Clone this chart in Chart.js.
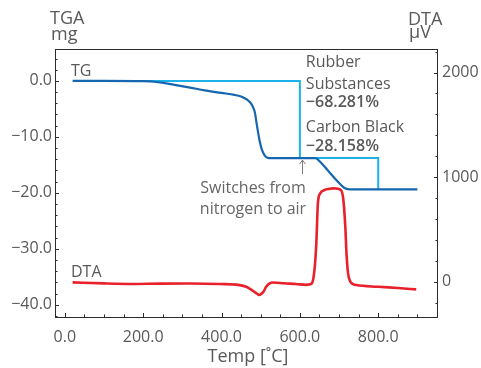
<!DOCTYPE html>
<html>
<head>
<meta charset="utf-8">
<script src="https://cdn.jsdelivr.net/npm/chart.js@4.4.1/dist/chart.umd.min.js"></script>
<style>
  html, body { margin: 0; padding: 0; background: #fff; }
  #wrap { width: 481px; height: 368px; }
</style>
</head>
<body>
<div id="wrap"><canvas id="tgaChart" width="481" height="368"></canvas></div>
<script>
// Curva TG (mg), escalones de referencia y señal DTA (µV) frente a temperatura
var tgTemp = [20, 100, 200, 229, 255, 280, 320, 357, 400, 433, 450, 459, 468, 476, 481, 485, 491, 497, 503, 510, 518, 530, 600, 640, 651, 670, 690, 705, 713, 722, 735, 800, 900];
var tgMass = [0, 0, -0.05, -0.15, -0.4, -0.7, -1.2, -1.7, -2.15, -2.5, -2.8, -3.1, -3.5, -4.1, -4.8, -5.6, -8.2, -10.6, -12.3, -13.3, -13.75, -13.8, -13.8, -13.8, -14.4, -15.9, -17.5, -18.6, -19.1, -19.35, -19.4, -19.4, -19.4];

var stepTemp = [100, 600, 600, 800, 800];
var stepMass = [0, 0, -13.8, -13.8, -19.4];

var dtaTemp = [20, 100, 173, 242, 320, 395, 446, 463, 480, 490, 496, 502, 507, 514, 523, 531, 560, 590, 616, 626, 632, 638, 642, 646, 652, 663, 675, 685, 695, 702, 710, 716, 719, 723, 729, 736, 744, 800, 850, 897];
var dtaSignal = [-6, -16, -21, -18, -17, -22, -32, -48, -86, -112, -127, -115, -96, -48, -15, -7, -15, -22, -30, -25, -5, 143, 367, 750, 845, 877, 888, 893, 890, 883, 813, 526, 271, 80, 0, -22, -32, -48, -60, -73];

var xTickLabels = [0, 200, 400, 600, 800];
var massTickLabels = [0, -10, -20, -30, -40];
var dtaTickLabels = [0, 1000, 2000];

var lossRubber = "\u221268.281%";
var lossCarbon = "\u221228.158%";

var FONT = '"Open Sans", "Noto Sans", sans-serif';
var TEXT = "#595959";

function pairs(xs, ys) {
  return xs.map(function (x, i) { return { x: x, y: ys[i] }; });
}

function fmt(v) {
  return (v < 0 ? "\u2212" : "") + Math.abs(v).toFixed(1);
}

function hasValue(list, v) {
  return list.some(function (t) { return Math.abs(t - v) < 1e-6; });
}

// marcas menores cada "step" dentro del rango de la escala
function minorTicks(step) {
  return function (scale) {
    var out = [];
    var v = Math.ceil(scale.min / step - 1e-9) * step;
    for (; v <= scale.max + 1e-9; v += step) out.push({ value: Math.round(v * 1000) / 1000 });
    scale.ticks = out;
  };
}

// marco, marcas hacia dentro y textos
var decorPlugin = {
  id: "decor",
  afterDraw: function (chart) {
    var ctx = chart.ctx, a = chart.chartArea;
    var xs = chart.scales.x, ys = chart.scales.y, ys2 = chart.scales.y1;
    ctx.save();
    ctx.strokeStyle = "#2b2b2b";
    ctx.lineWidth = 1;
    ctx.strokeRect(a.left + 0.5, a.top + 0.5, a.right - a.left, a.bottom - a.top);

    ctx.beginPath();
    xs.ticks.forEach(function (t) {
      var p = Math.round(xs.getPixelForValue(t.value)) + 0.5;
      var len = t.label ? 4 : 2.5;
      ctx.moveTo(p, a.bottom); ctx.lineTo(p, a.bottom - len);
    });
    ys.ticks.forEach(function (t) {
      var p = Math.round(ys.getPixelForValue(t.value)) + 0.5;
      var len = t.label ? 4 : 2.5;
      ctx.moveTo(a.left, p); ctx.lineTo(a.left + len, p);
    });
    ys2.ticks.forEach(function (t) {
      var p = Math.round(ys2.getPixelForValue(t.value)) + 0.5;
      var len = t.label ? 4 : 2.5;
      ctx.moveTo(a.right + 1, p); ctx.lineTo(a.right + 1 - len, p);
    });
    ctx.stroke();

    ctx.fillStyle = TEXT;
    ctx.textBaseline = "alphabetic";
    ctx.textAlign = "left";
    ctx.font = "18px " + FONT;
    ctx.fillText("TGA", 50, 24);
    ctx.fillText("mg", 51, 40);
    ctx.fillText("DTA", 408, 25);
    ctx.fillText("\u03bcV", 409, 38);
    ctx.textAlign = "center";
    ctx.fillText("Temp [\u02daC]", (a.left + a.right) / 2 + 2, 362);

    // etiquetas de las curvas
    ctx.textAlign = "left";
    ctx.font = "16px " + FONT;
    ctx.fillText("TG", 71, 76);
    ctx.fillText("DTA", 71, 277);

    // pérdidas de masa junto al escalón
    var sx = xs.getPixelForValue(600) + 6;
    ctx.fillText("Rubber", sx, 67);
    ctx.fillText("Substances", sx, 89);
    ctx.fillText("Carbon Black", sx, 132);
    ctx.font = "600 16px " + FONT;
    ctx.fillText(lossRubber, sx, 107);
    ctx.fillText(lossCarbon, sx, 151);

    // cambio de atmósfera
    var ax = Math.round(xs.getPixelForValue(600)) + 2.5;
    var ay = ys.getPixelForValue(-13.8) + 2;
    ctx.strokeStyle = "#7a7a7a";
    ctx.lineWidth = 1;
    ctx.beginPath();
    ctx.moveTo(ax, ay); ctx.lineTo(ax, ay + 14);
    ctx.moveTo(ax - 3, ay + 4); ctx.lineTo(ax, ay); ctx.lineTo(ax + 3, ay + 4);
    ctx.stroke();
    ctx.fillStyle = "#666";
    ctx.font = "16px " + FONT;
    ctx.textAlign = "center";
    ctx.fillText("Switches from", 253, 193);
    ctx.fillText("nitrogen to air", 253, 214);
    ctx.restore();
  }
};

var tickFont = { family: FONT, size: 16 };

var ctx = document.getElementById("tgaChart").getContext("2d");
var tgaChart = new Chart(ctx, {
  type: "line",
  data: {
    datasets: [
      {
        label: "TG",
        data: pairs(tgTemp, tgMass),
        yAxisID: "y",
        borderColor: "#1666b0",
        borderWidth: 2.2,
        pointRadius: 0,
        cubicInterpolationMode: "monotone",
      },
      {
        label: "Step",
        data: pairs(stepTemp, stepMass),
        yAxisID: "y",
        borderColor: "#1eb1e7",
        borderWidth: 2,
        pointRadius: 0,
        tension: 0,
      },
      {
        label: "DTA",
        data: pairs(dtaTemp, dtaSignal),
        yAxisID: "y1",
        borderColor: "#e8212b",
        borderWidth: 2.6,
        pointRadius: 0,
        cubicInterpolationMode: "monotone",
      },
    ],
  },
  options: {
    responsive: false,
    animation: false,
    layout: { padding: { top: 49, left: 0, right: 0, bottom: 0 } },
    plugins: {
      legend: { display: false },
      tooltip: { enabled: false },
    },
    scales: {
      x: {
        type: "linear",
        min: -25,
        max: 950,
        afterFit: function (s) { s.height = 51; },
        afterBuildTicks: minorTicks(50),
        grid: { display: false, drawTicks: false },
        border: { display: false },
        ticks: {
          autoSkip: false,
          maxRotation: 0,
          padding: 11,
          color: TEXT,
          font: tickFont,
          callback: function (value) {
            return hasValue(xTickLabels, value) ? fmt(value) : "";
          },
        },
      },
      y: {
        position: "left",
        min: -42.2,
        max: 5.7,
        afterFit: function (s) { s.width = 55; },
        afterBuildTicks: minorTicks(2),
        grid: { display: false, drawTicks: false },
        border: { display: false },
        ticks: {
          autoSkip: false,
          padding: 3,
          color: TEXT,
          font: tickFont,
          callback: function (value) {
            return hasValue(massTickLabels, value) ? fmt(value) : "";
          },
        },
      },
      y1: {
        position: "right",
        min: -337,
        max: 2225,
        afterFit: function (s) { s.width = 44; },
        afterBuildTicks: minorTicks(200),
        grid: { display: false, drawTicks: false },
        border: { display: false },
        ticks: {
          autoSkip: false,
          padding: 5,
          color: TEXT,
          font: tickFont,
          callback: function (value) {
            return hasValue(dtaTickLabels, value) ? String(value) : "";
          },
        },
      },
    },
  },
  plugins: [decorPlugin],
});
</script>
</body>
</html>
